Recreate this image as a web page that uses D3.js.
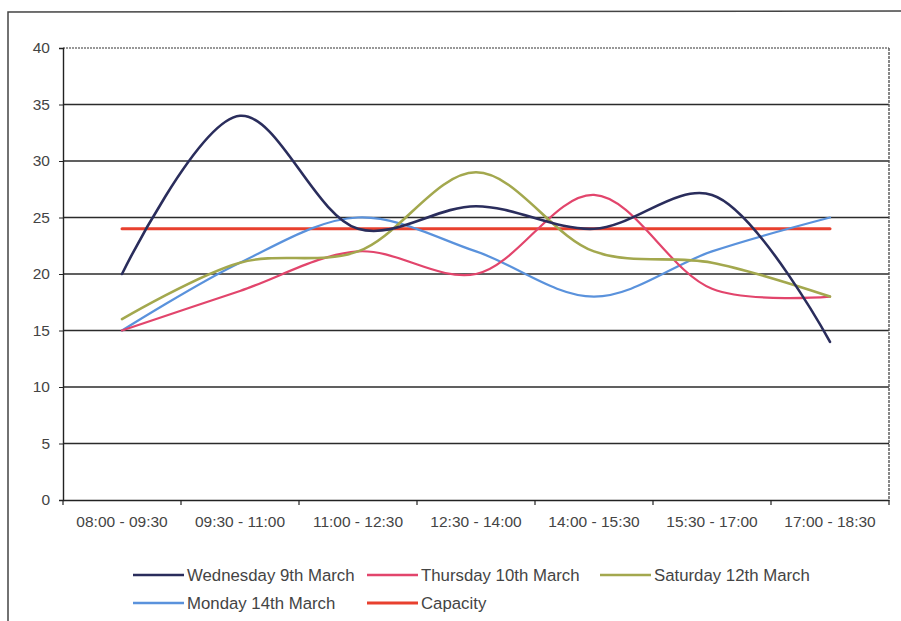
<!DOCTYPE html>
<html>
<head>
<meta charset="utf-8">
<script src="https://cdn.jsdelivr.net/npm/d3@7"></script>
<style>
  html, body { margin: 0; padding: 0; background: #fff; }
  svg { display: block; font-family: "Liberation Sans", Arial, sans-serif; }
</style>
</head>
<body>
<svg id="chart" width="901" height="621"></svg>
<script>
const categories = ["08:00 - 09:30", "09:30 - 11:00", "11:00 - 12:30", "12:30 - 14:00", "14:00 - 15:30", "15:30 - 17:00", "17:00 - 18:30"];
const wednesday = [20, 34, 24, 26, 24, 27, 14];
const thursday  = [15, 18.5, 22, 20, 27, 18.7, 18];
const saturday  = [16, 21, 22, 29, 22, 21, 18];
const monday    = [15, 21, 25, 22, 18, 22, 25];
const capacity  = [24, 24, 24, 24, 24, 24, 24];
const yTicks = [0, 5, 10, 15, 20, 25, 30, 35, 40];

const seriesNames = ["Wednesday 9th March", "Thursday 10th March", "Saturday 12th March", "Monday 14th March", "Capacity"];
const seriesValues = [wednesday, thursday, saturday, monday, capacity];
const seriesColors = ["#2a2d5c", "#e2456c", "#a3a84e", "#5a92dc", "#e8402e"];
const seriesWidths = [2.6, 2.2, 2.6, 2.2, 3];

(function () {
const svg = d3.select("#chart");
const mLeft = 63, mRight = 889, mTop = 48, mBottom = 500;

// outer chart frame
svg.append("path").attr("d", "M8,621 L8,12 L901,11")
  .attr("fill", "none").attr("stroke", "#444").attr("stroke-width", 1.5);

const x = d3.scaleBand().domain(categories).range([mLeft, mRight]).paddingInner(0).paddingOuter(0);
const y = d3.scaleLinear().domain([0, 40]).range([mBottom, mTop]);
const cx = c => x(c) + x.bandwidth() / 2;

// gridlines
const grid = svg.append("g");
grid.selectAll("line").data(yTicks.filter(t => t > 0)).join("line")
  .attr("x1", mLeft).attr("x2", mRight)
  .attr("y1", d => y(d)).attr("y2", d => y(d))
  .attr("stroke", d => d === 40 ? "#777" : "#2b2b2b")
  .attr("stroke-width", d => d === 40 ? 1.3 : 1.3)
  .attr("stroke-dasharray", d => d === 40 ? "2,1" : null);

// right border of plot
svg.append("line").attr("x1", mRight).attr("x2", mRight).attr("y1", y(40)).attr("y2", y(0))
  .attr("stroke", "#555").attr("stroke-width", 1.4).attr("stroke-dasharray", "3,1");

// y axis
const yAxis = svg.append("g").attr("transform", `translate(${mLeft},0)`)
  .call(d3.axisLeft(y).tickValues(yTicks).tickSize(4).tickPadding(9));
yAxis.select(".domain").attr("stroke", "#222").attr("stroke-width", 1.4);
yAxis.selectAll(".tick line").attr("stroke", "#222");
yAxis.selectAll(".tick text").attr("fill", "#444").style("font-size", "15.5px")
  .style("font-family", "'Liberation Sans', Arial, sans-serif");

// x axis
const xAxis = svg.append("g").attr("transform", `translate(0,${mBottom})`)
  .call(d3.axisBottom(x).tickSize(0).tickPadding(16));
xAxis.select(".domain").attr("stroke", "#222").attr("stroke-width", 1.4);
xAxis.selectAll(".tick text").attr("fill", "#444").style("font-size", "15.5px")
  .style("font-family", "'Liberation Sans', Arial, sans-serif");
// boundary tick marks
const bounds = categories.map(c => x(c)).concat([x(categories[categories.length - 1]) + x.bandwidth()]);
svg.append("g").selectAll("line").data(bounds).join("line")
  .attr("x1", d => d).attr("x2", d => d).attr("y1", mBottom).attr("y2", mBottom + 5)
  .attr("stroke", "#222").attr("stroke-width", 1.2);

// series lines
const line = d3.line()
  .x((d, i) => cx(categories[i]))
  .y(d => y(d))
  .curve(d3.curveCatmullRom.alpha(0.5));

const order = [4, 3, 1, 2, 0];
svg.append("g").selectAll("path").data(order).join("path")
  .attr("d", k => line(seriesValues[k]))
  .attr("fill", "none")
  .attr("stroke", k => seriesColors[k])
  .attr("stroke-width", k => seriesWidths[k])
  .attr("stroke-linejoin", "round")
  .attr("stroke-linecap", "round");

// legend
const legendPos = [[133, 575], [367, 575], [600, 575], [133, 603], [367, 603]];
const lg = svg.append("g");
seriesNames.forEach((name, i) => {
  const [lx, ly] = legendPos[i];
  lg.append("line").attr("x1", lx).attr("x2", lx + 51).attr("y1", ly).attr("y2", ly)
    .attr("stroke", seriesColors[i]).attr("stroke-width", i === 4 ? 3 : 2.6);
  lg.append("text").attr("x", lx + 54).attr("y", ly + 6)
    .attr("fill", "#444").style("font-size", "16.8px").text(name);
});
})();
</script>
</body>
</html>
